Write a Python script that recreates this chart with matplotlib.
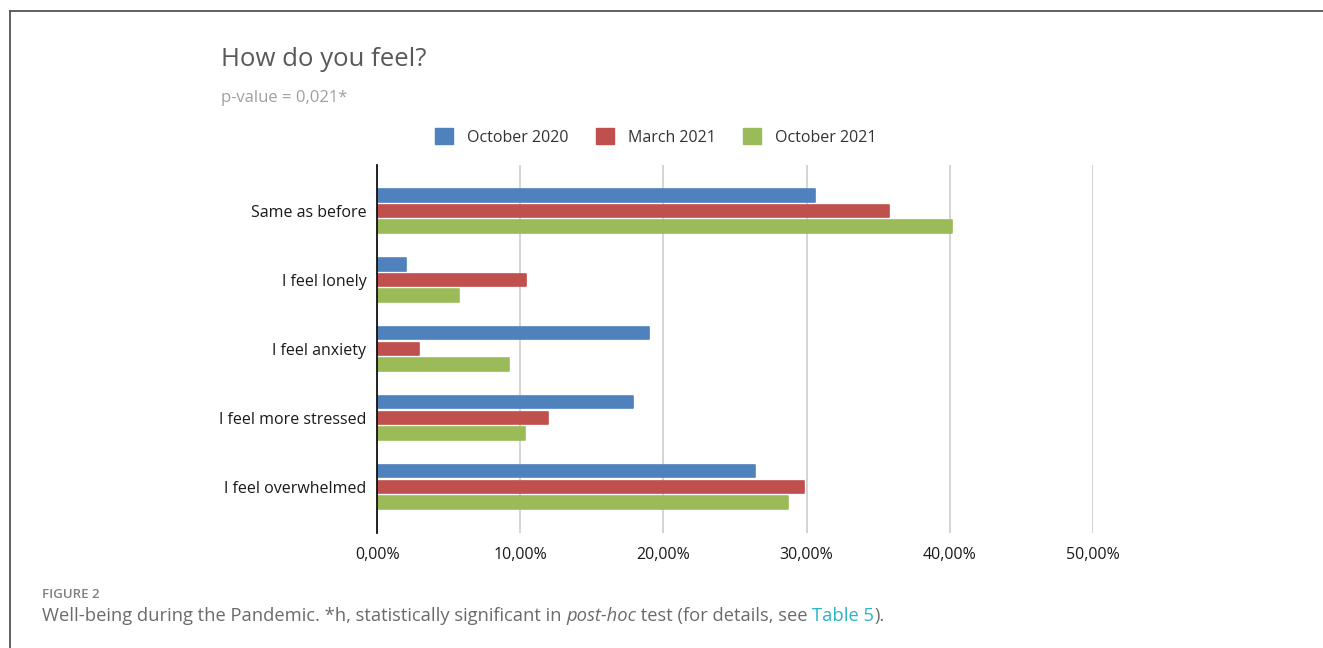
import matplotlib.pyplot as plt
import numpy as np
from matplotlib.lines import Line2D
from matplotlib.ticker import FuncFormatter

categories = ["Same as before", "I feel lonely", "I feel anxiety",
              "I feel more stressed", "I feel overwhelmed"]
series = ["October 2020", "March 2021", "October 2021"]
oct_2020 = [30.6, 2.0, 19.0, 17.9, 26.4]
mar_2021 = [35.8, 10.4, 2.9, 11.9, 29.8]
oct_2021 = [40.2, 5.7, 9.2, 10.3, 28.7]
colors = ["#4f81bd", "#c0504d", "#9bbb59"]

plt.rcParams['font.family'] = ['Open Sans', 'DejaVu Sans']

fig = plt.figure(figsize=(13.23, 6.48), dpi=100)
ax = fig.add_axes([0.2853, 0.1775, 0.5405, 0.5679])

y = np.arange(len(categories))
offsets = [-0.225, 0, 0.225]
for vals, off, col, name in zip([oct_2020, mar_2021, oct_2021], offsets, colors, series):
    bars = ax.barh(y + off, vals, height=0.175, color=col, edgecolor=col,
                   linewidth=1.2, label=name, zorder=3)
    for b in bars:
        b.set_joinstyle('round')

ax.set_xlim(0, 50)
ax.set_ylim(4.667, -0.667)
ax.set_xticks([0, 10, 20, 30, 40, 50])
ax.xaxis.set_major_formatter(FuncFormatter(lambda v, p: f"{v:.2f}%".replace(".", ",")))
ax.set_yticks(y)
ax.set_yticklabels(categories)
ax.tick_params(axis='both', length=0, labelsize=11.5, labelcolor='#1a1a1a')
ax.tick_params(axis='x', pad=10)
ax.tick_params(axis='y', pad=8)
ax.grid(axis='x', color='#d4d4d4', linewidth=1.4, zorder=0)
for s in ['top', 'right', 'bottom']:
    ax.spines[s].set_visible(False)
ax.spines['left'].set_color('#111111')
ax.spines['left'].set_linewidth(1.3)
ax.spines['left'].set_zorder(4)

handles = [plt.Rectangle((0, 0), 1, 1, color=c) for c in colors]
fig.legend(handles, series, loc='center', bbox_to_anchor=(656 / 1323, 1 - 137 / 648),
           ncol=3, frameon=False, fontsize=11.5, handlelength=1.1, handleheight=1.1,
           columnspacing=1.7, handletextpad=0.9, labelcolor='#333333')

fig.text(221 / 1323, 1 - 60 / 648, "How do you feel?", fontsize=18.5, color='#595959',
         va='center', ha='left')
fig.text(221 / 1323, 1 - 98 / 648, "p-value = 0,021*", fontsize=12, color='#a0a0a0',
         va='center', ha='left')

# caption
fig.text(42 / 1323, 1 - 594 / 648, "FIGURE 2", fontsize=9.5, color='#808080',
         va='center', ha='left', fontweight='semibold')
cap_color = '#6b6b6b'
cap_size = 13.2
t = fig.text(42 / 1323, 1 - 616 / 648,
             "Well-being during the Pandemic. *h, statistically significant in ",
             fontsize=cap_size, color=cap_color, va='center', ha='left')
pieces = [("post-hoc", cap_color, 'italic'),
          (" test (for details, see ", cap_color, 'normal'),
          ("Table 5", '#2cb3c6', 'normal'),
          (").", cap_color, 'normal')]
last = t
for txt, col, style in pieces:
    last = fig.add_artist(plt.Annotation(txt, xy=(1, 0), xycoords=last, fontsize=cap_size,
                                         color=col, style=style, va='bottom', ha='left'))

# frame lines
fig.add_artist(Line2D([10 / 1323, 10 / 1323], [0, 1 - 11 / 648], color='#555555', linewidth=1.3))
fig.add_artist(Line2D([10 / 1323, 1], [1 - 11 / 648, 1 - 11 / 648], color='#555555', linewidth=1.3))

fig.savefig("out.png", dpi=100)
